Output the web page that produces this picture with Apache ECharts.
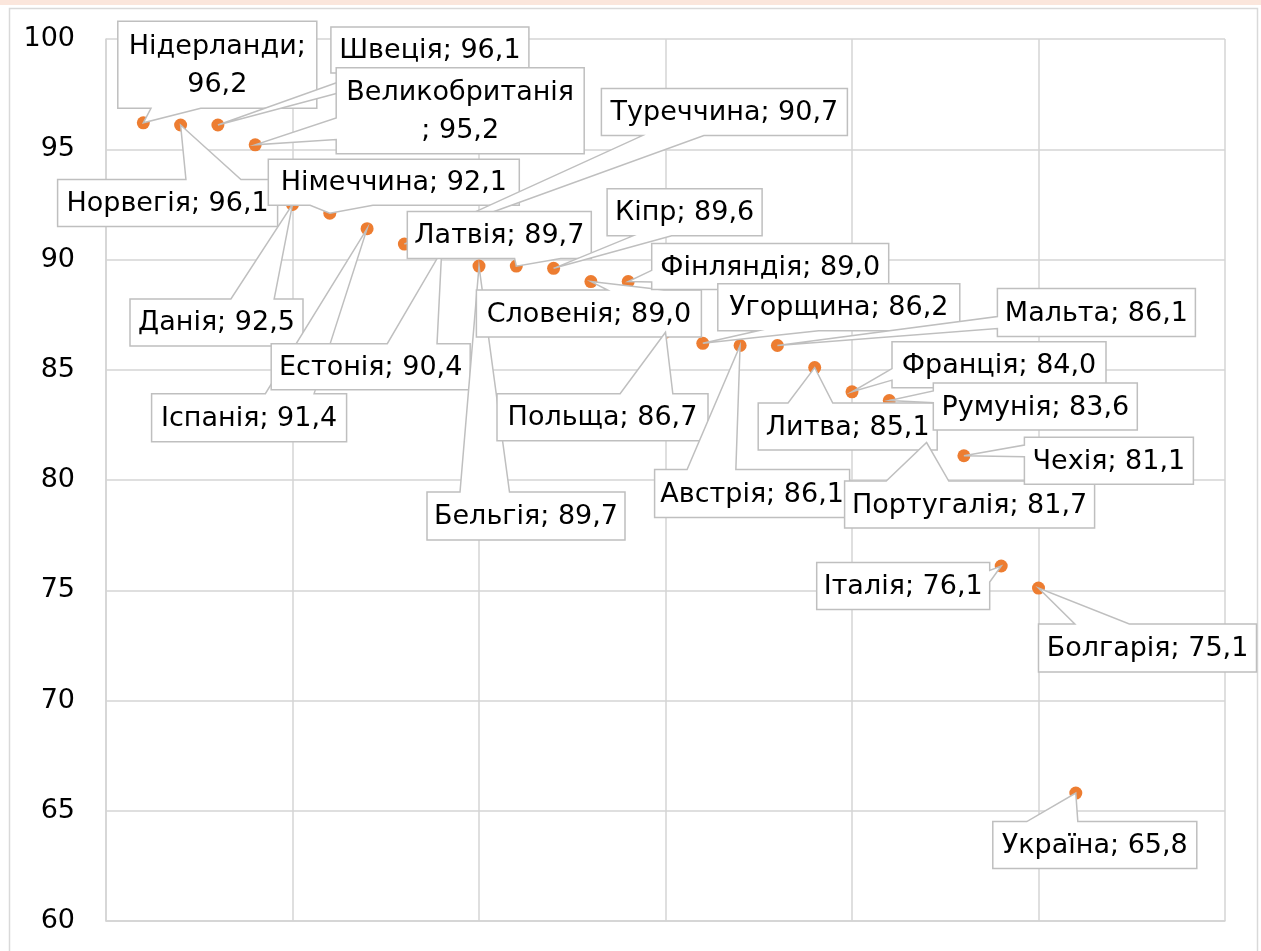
<!DOCTYPE html>
<html>
<head>
<meta charset="utf-8">
<script src="https://cdn.jsdelivr.net/npm/echarts@6/dist/echarts.min.js"></script>
<style>
    html, body { margin: 0; padding: 0; background: #fff; }
    #chart { width: 1261px; height: 951px; }
</style>
</head>
<body>
<div id="chart"></div>
<script>
// countries in the order they are plotted (x = 1, 2, 3 ...)
var countries = ["Нідерланди", "Норвегія", "Швеція", "Великобританія", "Данія", "Німеччина",
    "Іспанія", "Туреччина", "Естонія", "Бельгія", "Латвія", "Кіпр", "Словенія", "Фінляндія",
    "Польща", "Угорщина", "Австрія", "Мальта", "Литва", "Франція", "Румунія", "Португалія",
    "Чехія", "Італія", "Болгарія", "Україна"];
var values = [96.2, 96.1, 96.1, 95.2, 92.5, 92.1, 91.4, 90.7, 90.4, 89.7, 89.7, 89.6, 89.0, 89.0,
    86.7, 86.2, 86.1, 86.1, 85.1, 84.0, 83.6, 81.7, 81.1, 76.1, 75.1, 65.8];
var yTicks = [60, 65, 70, 75, 80, 85, 90, 95, 100];
var xTicks = [0, 5, 10, 15, 20, 25, 30];

// callout boxes: centre offset from the point, box size, line break (layout only)
var calloutOffsets = [[74, -58], [-13, 78], [212, -75], [205, -34], [-76, 118], [64, -31],
    [-118, 189], [320, -132], [-71, 116], [47, 250], [-17, -31], [131, -56], [-2, 32], [142, -15],
    [-63, 85], [136, -36], [12, 148], [319, -33], [33, 59], [147, -27], [146, 6], [43, 62],
    [145, 5], [-98, 20], [109, 60], [19, 52]];
var calloutSizes = [[199, 87], [220, 47], [198, 46], [248, 86], [173, 47], [251, 46],
    [195, 48], [246, 47], [199, 46], [198, 48], [184, 47], [155, 47], [225, 47], [237, 46],
    [211, 47], [242, 47], [195, 48], [198, 48], [179, 47], [214, 46], [204, 47], [250, 47],
    [169, 47], [173, 47], [218, 48], [204, 47]];
var calloutBreaks = { 0: ";\n", 3: "\n; " };

var points = [];
for (var i = 0; i < values.length; i++) {
    points.push([i + 1, values[i]]);
}

function labelText(i) {
    var sep = calloutBreaks[i] || "; ";
    return countries[i] + sep + values[i].toFixed(1).replace(".", ",");
}

// Excel-like rectangular callout with a wedge pointing at the point
function renderCallout(params, api) {
    var i = params.dataIndex;
    var p = api.coord([api.value(0), api.value(1)]);
    var w = calloutSizes[i][0], h = calloutSizes[i][1];
    var cx = p[0] + calloutOffsets[i][0], cy = p[1] + calloutOffsets[i][1];
    var l = cx - w / 2, t = cy - h / 2, r = l + w, b = t + h;
    var dx = p[0] - cx, dy = p[1] - cy;
    var pts;
    if (Math.abs(dy) > Math.abs(dx) * h / w) {
        var x1 = l + w * (dx > 0 ? 7 : 2) / 12, x2 = l + w * (dx > 0 ? 10 : 5) / 12;
        if (dy < 0) pts = [[l, t], [x1, t], p, [x2, t], [r, t], [r, b], [l, b]];
        else pts = [[l, t], [r, t], [r, b], [x2, b], p, [x1, b], [l, b]];
    } else {
        var y1 = t + h * (dy > 0 ? 7 : 2) / 12, y2 = t + h * (dy > 0 ? 10 : 5) / 12;
        if (dx > 0) pts = [[l, t], [r, t], [r, y1], p, [r, y2], [r, b], [l, b]];
        else pts = [[l, t], [r, t], [r, b], [l, b], [l, y2], p, [l, y1]];
    }
    return {
        type: "group",
        children: [
            {
                type: "polygon",
                shape: { points: pts },
                style: { fill: "#fff", stroke: "#bfbfbf", lineWidth: 1.5 }
            },
            {
                type: "text",
                x: cx,
                y: cy + 1,
                style: {
                    text: labelText(i),
                    fill: "#000",
                    font: "27px 'DejaVu Sans'",
                    align: "center",
                    verticalAlign: "middle",
                    lineHeight: 38
                }
            }
        ]
    };
}

var myChart = echarts.init(document.getElementById("chart"));
var option = {
    animation: false,
    backgroundColor: "#fff",
    graphic: [
        { type: "rect", left: 0, top: 0, shape: { width: 1261, height: 5 }, style: { fill: "#fbe6dc" } },
        { type: "rect", left: 7, top: 6, shape: { width: 1248, height: 960 },
          style: { fill: "none", stroke: "#d9d9d9", lineWidth: 1.5 } }
    ],
    grid: { left: 106, right: 36, top: 39, bottom: 30 },
    xAxis: {
        type: "value",
        min: xTicks[0],
        max: xTicks[xTicks.length - 1],
        interval: 5,
        axisLabel: { show: false },
        axisTick: { show: false },
        axisLine: { show: true, lineStyle: { color: "#d4d4d4", width: 1.5 } },
        splitLine: { show: true, lineStyle: { color: "#d4d4d4", width: 1.5 } }
    },
    yAxis: {
        type: "value",
        min: yTicks[0],
        max: yTicks[yTicks.length - 1],
        interval: 5,
        axisLabel: { color: "#000", fontSize: 27, fontFamily: "DejaVu Sans", margin: 31 },
        axisTick: { show: false },
        axisLine: { show: true, lineStyle: { color: "#d4d4d4", width: 1.5 } },
        splitLine: { show: true, lineStyle: { color: "#d4d4d4", width: 1.5 } }
    },
    series: [
        {
            type: "scatter",
            data: points,
            symbolSize: 13,
            itemStyle: { color: "#ed7d31", opacity: 1 },
            z: 2
        },
        {
            type: "custom",
            data: points,
            encode: { x: 0, y: 1 },
            renderItem: renderCallout,
            z: 3
        }
    ]
};
myChart.setOption(option);
</script>
</body>
</html>
